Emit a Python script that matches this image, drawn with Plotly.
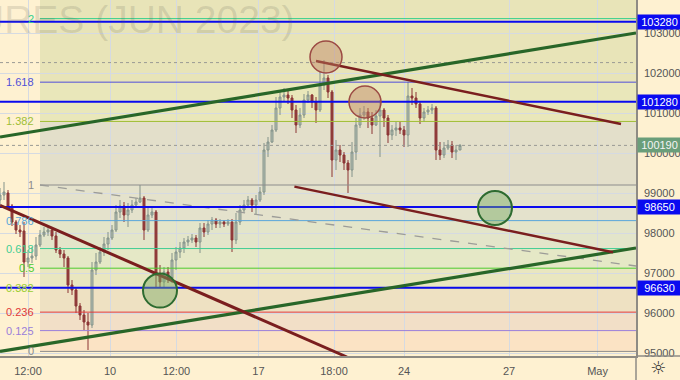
import plotly.graph_objects as go

# ---------------- data ----------------
bar_open = [98825, 98950, 99000, 98675, 98275, 98075, 98050, 97275, 97375, 97425,
            97700, 97950, 98025, 98075, 97925, 97575, 97475, 97375, 96700, 96575,
            96175, 95950, 95775, 95700, 97075, 97275, 97525, 97725, 97875, 98075,
            98525, 98675, 98450, 98575, 98700, 98775, 98875, 98075, 98450, 98525,
            96950, 96775, 97025, 96875, 97325, 97525, 97625, 97775, 97825, 97875,
            97775, 98125, 98025, 98225, 98325, 98225, 98275, 98225, 98275, 97825,
            98275, 98575, 98700, 98825, 98700, 98825, 99025, 100075, 100275, 100575,
            101125, 101400, 101450, 101375, 101075, 100700, 100950, 101325, 101450, 101275,
            101075, 101700, 101875, 101525, 99825, 100075, 99950, 99750, 99575, 100025,
            100700, 100950, 101025, 100875, 100700, 100925, 101075, 100875, 100450, 100575,
            100625, 100575, 100450, 101425, 101375, 101225, 100875, 101025, 101075, 101125,
            100075, 99950, 100125, 100200, 100025, 100075]
bar_high = [99125, 99275, 99075, 98725, 98325, 98200, 98275, 97575, 97650, 97900,
            98075, 98150, 98175, 98125, 98025, 97650, 97575, 97425, 96825, 96625,
            96250, 96075, 96000, 97275, 97500, 97650, 97900, 98025, 98200, 98700,
            98825, 98775, 98750, 98825, 98875, 99200, 98925, 98650, 98625, 98575,
            97200, 97150, 97150, 97500, 97650, 97775, 97875, 97925, 97975, 97950,
            98250, 98250, 98325, 98400, 98375, 98350, 98325, 98350, 98350, 98500,
            98700, 98825, 98925, 98875, 98950, 99150, 100250, 100400, 100700, 101400,
            101575, 101625, 101575, 101450, 101200, 101125, 101475, 101550, 101475, 101400,
            102025, 102325, 101950, 101575, 100325, 100200, 100025, 99825, 100275, 100875,
            101125, 101175, 101125, 101025, 101075, 101325, 101125, 100950, 100700, 100775,
            100775, 100675, 101775, 101625, 101525, 101275, 101125, 101175, 101225, 101175,
            100275, 100275, 100325, 100300, 100200, 100225]
bar_low = [98700, 98825, 98600, 98175, 97975, 97900, 96900, 97150, 97250, 97325,
           97650, 97900, 97925, 97825, 97500, 97375, 97150, 96500, 96450, 96000,
           95825, 95575, 95075, 95625, 96950, 97225, 97425, 97575, 97825, 98025,
           98375, 98275, 98150, 98500, 98650, 98750, 97825, 98025, 98375, 96625,
           96625, 96650, 96750, 96750, 97075, 97375, 97500, 97675, 97750, 97650,
           97500, 97900, 97950, 98075, 98125, 98125, 98150, 98175, 97525, 97725,
           98200, 98525, 98625, 98525, 98450, 98775, 98950, 99900, 100250, 100525,
           100950, 101275, 101225, 100875, 100500, 100625, 100875, 101250, 101125, 100750,
           101025, 101575, 101375, 99400, 99575, 99775, 99575, 99000, 99400, 99825,
           100625, 100825, 100625, 100475, 100675, 99900, 100650, 100250, 100325, 100425,
           100475, 100150, 100150, 101200, 101125, 100725, 100775, 100950, 100975, 99825,
           99825, 99875, 100075, 99875, 99825, 100075]
bar_close = [98950, 99025, 98675, 98275, 98075, 98025, 97275, 97375, 97425, 97700,
             97950, 98025, 98075, 97925, 97575, 97475, 97375, 96700, 96575, 96175,
             95950, 95775, 95700, 97075, 97275, 97525, 97725, 97875, 98075, 98525,
             98675, 98450, 98575, 98700, 98775, 98875, 98075, 98450, 98525, 96950,
             96775, 97025, 96875, 97325, 97525, 97625, 97775, 97825, 97875, 97775,
             98125, 98025, 98225, 98325, 98225, 98275, 98225, 98275, 97825, 98275,
             98575, 98700, 98825, 98700, 98825, 99025, 100075, 100275, 100575, 101125,
             101400, 101450, 101375, 101075, 100700, 100950, 101325, 101450, 101275, 101075,
             101700, 101875, 101525, 99825, 100075, 99950, 99750, 99575, 100025, 100700,
             100950, 101025, 100875, 100700, 100925, 101075, 100875, 100450, 100575, 100625,
             100575, 100450, 101425, 101375, 101225, 100875, 101025, 101075, 101125, 100075,
             99950, 100125, 100200, 100025, 100075, 100190]

tick_bars = [7, 27.5, 44.1, 64.6, 83.5, 101, 127.25, 149.4]
tick_labels = ["12:00", "10", "12:00", "17", "18:00", "24", "27", "May"]
price_ticks = [95000, 96000, 97000, 98000, 99000, 100000, 101000, 102000, 103000]
price_tick_labels = ["95000", "96000", "97000", "98000", "99000", "100000", "101000", "102000", "103000"]

fib_start_bar = 10
fib_low, fib_high = 95040, 99200
fib_ratios = [0, 0.125, 0.236, 0.382, 0.5, 0.618, 0.786, 1, 1.382, 1.618, 2]
fib_names = ["0", "0.125", "0.236", "0.382", "0.5", "0.618", "0.786", "1", "1.382", "1.618", "2"]

level_prices = [103280, 101280, 98650, 96630]
last_price = 100190
dotted_prices = [102260, 100190]

# trendlines: (bar0, price0, bar1, price1)
green_lines = [(0, 100400, 159, 103000), (0, 95040, 159, 97625)]
maroon_lines = [(0, 98690, 86.75, 94900), (79, 102300, 155.25, 100725), (73.6, 99160, 153.25, 97520)]
dashed_line = (10, 99200, 159, 97175)

brown_circles = [(81.5, 102400), (91.25, 101275)]
green_circles = [(40, 96560), (123.75, 98625)]

# ---------------- styles ----------------
BG = "#FEF1D1"
fib_line_colors = ["#8C8C8C", "#9A7EDA", "#E0393B", "#9ACD32", "#4CCB2E", "#3FCD93",
                   "#58A6DA", "#8C8C8C", "#A0BE35", "#5050D8", "#36D08D"]
zone_colors = ["#FBE3C4", "#F2DFC7", "#EEE1C2", "#E9E6C0", "#E5E8C6", "#E3E5CA",
               "#E4E2CC", "#E3DFCA", "#E9E7BA", "#E8E4B8", "#E8E4B8"]

fig = go.Figure()
fig.add_trace(go.Candlestick(
    x=list(range(len(bar_open))), open=bar_open, high=bar_high, low=bar_low, close=bar_close,
    increasing=dict(line=dict(color="#84938A", width=1), fillcolor="#B7C1B5"),
    decreasing=dict(line=dict(color="#8B3535", width=1), fillcolor="#953F3F"),
    whiskerwidth=0, showlegend=False, hoverinfo="skip"))

shapes = []
fib_prices = [fib_low + r * (fib_high - fib_low) for r in fib_ratios]
for i, p in enumerate(fib_prices):
    top = fib_prices[i + 1] if i + 1 < len(fib_prices) else 110000
    shapes.append(dict(type="rect", xref="x", yref="y", x0=fib_start_bar, x1=400, y0=p, y1=top,
                       fillcolor=zone_colors[i], line=dict(width=0), layer="below"))
for p, c in zip(fib_prices, fib_line_colors):
    shapes.append(dict(type="line", xref="x", yref="y", x0=fib_start_bar, x1=400, y0=p, y1=p,
                       line=dict(color=c, width=1), layer="above"))
for p in dotted_prices:
    shapes.append(dict(type="line", xref="paper", yref="y", x0=0, x1=1, y0=p, y1=p,
                       line=dict(color="#9A9A94", width=1, dash="dot"), layer="above"))
shapes.append(dict(type="line", xref="x", yref="y", x0=dashed_line[0], y0=dashed_line[1],
                   x1=dashed_line[2], y1=dashed_line[3],
                   line=dict(color="#9C9C98", width=1.3, dash="dash"), layer="above"))
for p in level_prices:
    shapes.append(dict(type="line", xref="paper", yref="y", x0=0, x1=1, y0=p, y1=p,
                       line=dict(color="#0A0AEE", width=2), layer="above"))
for (a, b, c, d) in green_lines:
    shapes.append(dict(type="line", xref="x", yref="y", x0=a, y0=b, x1=c, y1=d,
                       line=dict(color="#286628", width=3.2), layer="above"))
for k, (a, b, c, d) in enumerate(maroon_lines):
    shapes.append(dict(type="line", xref="x", yref="y", x0=a, y0=b, x1=c, y1=d,
                       line=dict(color="#7A1E1E", width=3 if k == 0 else 2.5), layer="above"))
for (cx, cy) in brown_circles:
    shapes.append(dict(type="circle", xref="x", yref="y", xsizemode="pixel", ysizemode="pixel",
                       xanchor=cx, yanchor=cy, x0=-16, x1=16, y0=-16, y1=16,
                       fillcolor="rgba(190,130,100,0.45)", line=dict(color="#9C4A44", width=1.5),
                       layer="above"))
for (cx, cy) in green_circles:
    shapes.append(dict(type="circle", xref="x", yref="y", xsizemode="pixel", ysizemode="pixel",
                       xanchor=cx, yanchor=cy, x0=-17, x1=17, y0=-17, y1=17,
                       fillcolor="rgba(120,170,100,0.45)", line=dict(color="#2D6B30", width=2),
                       layer="above"))
shapes.append(dict(type="line", xref="paper", yref="paper", x0=1, x1=1, y0=0, y1=-0.07,
                   line=dict(color="#8E8B84", width=1.5)))
shapes.append(dict(type="line", xref="paper", yref="paper", x0=1, x1=1.07, y0=0, y1=0,
                   line=dict(color="#8E8B84", width=1.5)))

annotations = []
# watermark first so other texts sit above it
annotations.append(dict(x=297 / 636, y=1.012, xref="paper", yref="paper",
                        text="RTS INDEX FUTURES (JUN 2023)", showarrow=False,
                        xanchor="right", yanchor="top",
                        font=dict(family="Liberation Sans", size=39, color="rgba(90,90,80,0.17)")))
for name, p, c in zip(fib_names, fib_prices, fib_line_colors):
    annotations.append(dict(x=8.9, y=p, xref="x", yref="y", text=name, showarrow=False,
                            xanchor="right", yanchor="middle",
                            font=dict(family="Liberation Sans", size=11, color=c)))
for p in level_prices:
    annotations.append(dict(x=1, y=p, xref="paper", yref="y", text=str(p), showarrow=False,
                            xanchor="left", yanchor="middle", xshift=1, width=41, borderpad=1,
                            bgcolor="#0A0AF0",
                            font=dict(family="Liberation Sans", size=11, color="white")))
annotations.append(dict(x=1, y=last_price, xref="paper", yref="y", text=str(last_price),
                        showarrow=False, xanchor="left", yanchor="middle", xshift=1, width=41,
                        borderpad=1, bgcolor="#6A9E7A",
                        font=dict(family="Liberation Sans", size=11, color="#F4F4F4")))
annotations.append(dict(x=1.0346, y=-0.033, xref="paper", yref="paper", text="☼",
                        showarrow=False, xanchor="center", yanchor="middle",
                        font=dict(family="DejaVu Sans", size=18, color="#333333")))

fig.update_layout(
    width=680, height=380, autosize=False,
    margin=dict(l=0, r=44, t=0, b=24),
    paper_bgcolor=BG, plot_bgcolor=BG,
    shapes=shapes, annotations=annotations,
    showlegend=False,
    xaxis=dict(range=[0, 159], rangeslider=dict(visible=False), tickmode="array",
               tickvals=tick_bars, ticktext=tick_labels, showgrid=True, gridcolor="#D5DAE2",
               gridwidth=1, zeroline=False, showline=True, linecolor="#8E8B84", linewidth=1.5,
               ticks="", ticklabelstandoff=4,
               tickfont=dict(family="Liberation Sans", size=11, color="#555555")),
    yaxis=dict(range=[94925, 103825], side="right", tickmode="array", tickvals=price_ticks,
               ticktext=price_tick_labels,
               showgrid=True, gridcolor="#D5DAE2", gridwidth=1, zeroline=False,
               showline=True, linecolor="#8E8B84", linewidth=1.5, ticks="",
               ticklabelstandoff=4,
               tickfont=dict(family="Liberation Sans", size=11, color="#555555")),
)

fig.write_html("out.html")
